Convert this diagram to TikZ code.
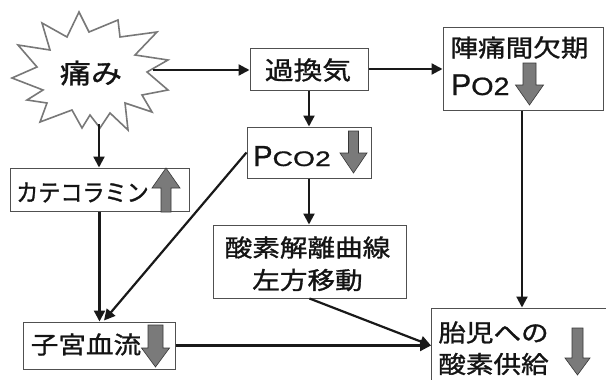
\documentclass[tikz,border=0pt]{standalone}
\usepackage{fontspec}
\usetikzlibrary{arrows.meta}
\newfontfamily\jp[FakeStretch=1.15,FakeBold=1.2]{Noto Sans CJK JP}
\newfontfamily\jpk[FakeStretch=0.92,FakeBold=1.2]{Noto Sans CJK JP}
\newfontfamily\lat[FakeBold=0.8]{Liberation Sans}
\definecolor{boxline}{RGB}{80,80,80}
\definecolor{starline}{RGB}{120,120,120}
\definecolor{gfill}{RGB}{122,122,122}
\definecolor{gline}{RGB}{55,55,55}
\definecolor{ink}{RGB}{20,20,20}
\newcommand\gdn[6]{%
  \filldraw[garrow] (#1-#5,#2) -- (#1+#5,#2) -- (#1+#5,#3) -- (#1+#6,#3) -- (#1,#4) -- (#1-#6,#3) -- (#1-#5,#3) -- cycle;}
\begin{document}
\begin{tikzpicture}[x=1pt,y=-1pt,
  box/.style={draw=boxline, line width=1pt, rectangle, inner sep=0pt, fill=white},
  txt/.style={inner sep=0pt, text=ink},
  conn/.style={line width=2.2pt, draw=black!90, -{Triangle[length=11pt,width=11pt]}},
  garrow/.style={fill=gfill, draw=gline, line width=0.6pt},
  starshape/.style={draw=starline, line width=1.6pt, fill=white, line join=miter}]
\useasboundingbox (0,0) rectangle (606,380);
\clip (0,0) rectangle (606,380);
\fill[white] (0,0) rectangle (606,380);

% starburst
\draw[starshape] (79,12) -- (89,32) -- (118,20) -- (120,37) -- (157,32) -- (135,55) -- (168,60) -- (147,72) -- (168,90) -- (142,95) -- (152,112) -- (125,103) -- (128,130) -- (110,113) -- (100,128) -- (90,115) -- (82,128) -- (72,110) -- (40,122) -- (47,103) -- (27,100) -- (43,90) -- (12,78) -- (37,67) -- (18,45) -- (50,50) -- (42,23) -- (67,37) -- cycle;
\node[txt] (pain) at (91,73) {\jp\fontsize{27}{30}\selectfont 痛み};
\coordinate (starright) at (153,70);
\coordinate (starbot) at (99,124);

% boxes
\node[box, minimum width=118pt, minimum height=42pt] (guo) at (309,69) {};
\node[txt] (guot) at (308,70) {\jp\fontsize{25}{30}\selectfont 過換気};

\node[box, minimum width=160pt, minimum height=83pt] (jin) at (523,68.5) {};
\node[txt] (jint) at (519.5,47.5) {\jp\fontsize{24}{28}\selectfont 陣痛間欠期};
\node[txt, anchor=base west] (po) at (451,95) {\lat\fontsize{30}{30}\selectfont P\fontsize{25}{25}\selectfont\scalebox{1.15}[1]{O2}};

\node[box, minimum width=124pt, minimum height=51pt] (pco) at (309,152.5) {};
\node[txt, anchor=base west] (pcot) at (253,166) {\lat\fontsize{29}{29}\selectfont P\fontsize{21}{21}\selectfont\scalebox{1.35}[1]{CO2}};

\node[box, minimum width=193pt, minimum height=73pt] (san) at (309.5,261.5) {};
\node[txt] (sant1) at (307.5,247.5) {\jp\fontsize{24}{28}\selectfont 酸素解離曲線};
\node[txt] (sant2) at (307.5,280) {\jp\fontsize{24}{28}\selectfont 左方移動};

\node[box, minimum width=179pt, minimum height=43pt] (kate) at (99.5,189.5) {};
\node[txt] (katet) at (82.5,192.5) {\jpk\fontsize{24}{28}\selectfont カテコラミン};

\node[box, minimum width=152pt, minimum height=47pt] (shi) at (99,345.5) {};
\node[txt] (shit) at (86,344.5) {\jp\fontsize{24}{28}\selectfont 子宮血流};

\node[box, minimum width=189pt, minimum height=87pt] (tai) at (525.5,351.5) {};
\node[txt] (tait1) at (493.5,332.5) {\jp\fontsize{24}{28}\selectfont 胎児への};
\node[txt] (tait2) at (493.5,364) {\jp\fontsize{24}{28}\selectfont 酸素供給};
\coordinate (taiin) at (431,345.5);

% gray arrows
\gdn{529.5}{63}{85}{105}{6.5}{14}
\gdn{353.5}{131}{153}{173}{5}{13.5}
\gdn{166}{212}{188}{168}{5}{14}
\gdn{155.5}{325}{348}{367}{7.5}{14}
\gdn{577.5}{328}{358}{375}{5.5}{12.5}

% connectors
\draw[conn] (starright) -- (starright -| guo.west);
\draw[conn] (guo.east) -- (guo.east -| jin.west);
\draw[conn] (guo.south) -- (guo.south |- pco.north);
\draw[conn] (starbot) -- (starbot |- kate.north);
\draw[conn] (kate.south) -- (kate.south |- shi.north);
\draw[conn] (pco.west) -- ([xshift=5pt,yshift=1pt]shi.north);
\draw[conn] (pco.south) -- (pco.south |- san.north);
\draw[conn] ([xshift=-1pt]jin.south) -- ([xshift=-1pt]jin.south |- tai.north);
\draw[conn] (shi.east |- taiin) -- (taiin);
\draw[conn] (san.south) -- (taiin);
\end{tikzpicture}
\end{document}
